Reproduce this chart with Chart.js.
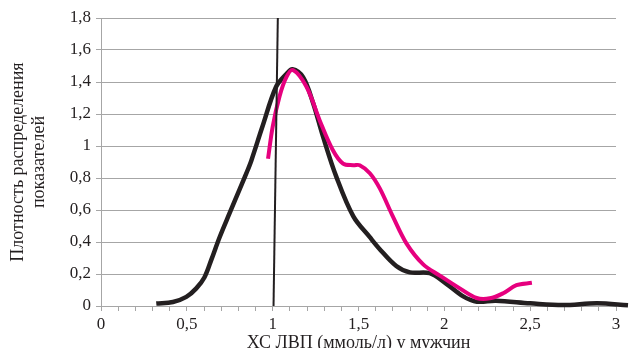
<!DOCTYPE html>
<html>
<head>
<meta charset="utf-8">
<script src="https://cdn.jsdelivr.net/npm/chart.js@4"></script>
<style>
  html, body { margin: 0; padding: 0; background: #fff; }
  canvas { display: block; }
</style>
</head>
<body>
<canvas id="grafico" width="629" height="348"></canvas>
<script>
const blackX = [0.322, 0.419, 0.497, 0.555, 0.603, 0.643, 0.691, 0.749, 0.808, 0.847, 0.876, 0.94, 1.02, 1.08, 1.115, 1.177, 1.235, 1.293, 1.37, 1.47, 1.566, 1.62, 1.72, 1.8, 1.915, 2.01, 2.11, 2.19, 2.3, 2.5, 2.69, 2.89, 3.07];
const blackY = [0.015, 0.025, 0.057, 0.11, 0.18, 0.29, 0.43, 0.58, 0.73, 0.83, 0.91, 1.12, 1.37, 1.45, 1.48, 1.43, 1.27, 1.06, 0.81, 0.56, 0.43, 0.36, 0.25, 0.21, 0.205, 0.14, 0.06, 0.027, 0.033, 0.017, 0.006, 0.017, 0.004];

const pinkX = [0.973, 1.0, 1.04, 1.08, 1.118, 1.197, 1.274, 1.35, 1.41, 1.47, 1.507, 1.566, 1.624, 1.70, 1.78, 1.877, 1.974, 2.09, 2.188, 2.265, 2.343, 2.42, 2.51];
const pinkY = [0.92, 1.12, 1.31, 1.43, 1.475, 1.37, 1.16, 0.975, 0.89, 0.88, 0.88, 0.83, 0.735, 0.56, 0.39, 0.26, 0.19, 0.11, 0.05, 0.048, 0.08, 0.13, 0.145];

const markX = [1.03, 1.005];
const markY = [1.8, 0];

const xLabels = ['0', '0,5', '1', '1,5', '2', '2,5', '3'];
const yTitle = ['Плотность распределения', 'показателей'];
const xTitle = 'ХС ЛВП (ммоль/л) у мужчин';

const pontos = (xs, ys) => xs.map((x, i) => ({ x: x, y: ys[i] }));

const familia = '"Liberation Serif", "Times New Roman", serif';
const fonteTicks = { family: familia, size: 17 };
const fonteTitulo = { family: familia, size: 18 };
const cinza = '#a6a6a6';

const ctx = document.getElementById('grafico').getContext('2d');
new Chart(ctx, {
    type: 'line',
    data: {
        datasets: [
            {
                data: pontos(markX, markY),
                borderColor: '#231f20',
                borderWidth: 2,
                pointRadius: 0,
                tension: 0,
                order: 0
            },
            {
                data: pontos(pinkX, pinkY),
                borderColor: '#e6007e',
                borderWidth: 4,
                pointRadius: 0,
                tension: 0.35,
                order: 1
            },
            {
                data: pontos(blackX, blackY),
                borderColor: '#231f20',
                borderWidth: 4.5,
                pointRadius: 0,
                tension: 0.35,
                clip: false,
                order: 2
            }
        ]
    },
    options: {
        responsive: false,
        animation: false,
        events: [],
        layout: { padding: { top: 18, right: 13, left: 0, bottom: 0 } },
        plugins: { legend: { display: false }, tooltip: { enabled: false } },
        scales: {
            x: {
                type: 'linear',
                min: 0,
                max: 3,
                afterFit: (scale) => { scale.height = 42; },
                border: { color: cinza, width: 1 },
                grid: { drawOnChartArea: false, color: cinza, tickLength: 5 },
                ticks: {
                    stepSize: 0.1,
                    autoSkip: false,
                    maxRotation: 0,
                    padding: 3,
                    color: '#231f20',
                    font: fonteTicks,
                    callback: (v) => {
                        const k = Math.round(v * 10);
                        return k % 5 === 0 ? xLabels[k / 5] : '';
                    }
                },
                title: {
                    display: true,
                    text: xTitle,
                    color: '#231f20',
                    font: fonteTitulo,
                    padding: { top: 0, bottom: -6 }
                }
            },
            y: {
                min: 0,
                max: 1.8,
                afterFit: (scale) => { scale.width = 101; },
                border: { color: cinza, width: 1 },
                grid: { color: cinza, tickLength: 5 },
                ticks: {
                    stepSize: 0.2,
                    padding: 5,
                    color: '#231f20',
                    font: fonteTicks,
                    callback: (v) => (Math.round(v * 10) / 10).toString().replace('.', ',')
                },
                title: {
                    display: true,
                    text: yTitle,
                    color: '#231f20',
                    font: fonteTitulo,
                    padding: { top: 7, bottom: 0 }
                }
            }
        }
    }
});
</script>
</body>
</html>
